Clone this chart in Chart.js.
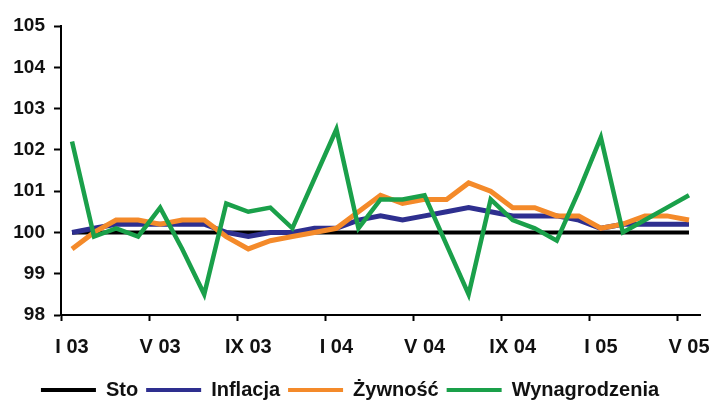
<!DOCTYPE html>
<html>
<head>
<meta charset="utf-8">
<script src="https://cdn.jsdelivr.net/npm/chart.js@4.4.1/dist/chart.umd.min.js"></script>
<style>
html,body{margin:0;padding:0;background:#fff;}
#wrap{width:711px;height:405px;}
</style>
</head>
<body>
<div id="wrap"><canvas id="c" width="711" height="405"></canvas></div>
<script>
const categories = ["I 03","II 03","III 03","IV 03","V 03","VI 03","VII 03","VIII 03","IX 03","X 03","XI 03","XII 03",
  "I 04","II 04","III 04","IV 04","V 04","VI 04","VII 04","VIII 04","IX 04","X 04","XI 04","XII 04",
  "I 05","II 05","III 05","IV 05","V 05"];
const sto = [100,100,100,100,100,100,100,100,100,100,100,100,100,100,100,100,100,100,100,100,100,100,100,100,100,100,100,100,100];
const inflacja = [100.0,100.1,100.2,100.2,100.2,100.2,100.2,100.0,99.9,100.0,100.0,100.1,100.1,100.3,100.4,100.3,100.4,100.5,100.6,100.5,100.4,100.4,100.4,100.3,100.1,100.2,100.2,100.2,100.2];
const zywnosc = [99.6,100.0,100.3,100.3,100.2,100.3,100.3,99.9,99.6,99.8,99.9,100.0,100.1,100.5,100.9,100.7,100.8,100.8,101.2,101.0,100.6,100.6,100.4,100.4,100.1,100.2,100.4,100.4,100.3];
const wynagrodzenia = [102.2,99.9,100.1,99.9,100.6,99.6,98.5,100.7,100.5,100.6,100.1,101.3,102.5,100.1,100.8,100.8,100.9,99.7,98.5,100.8,100.3,100.1,99.8,101.0,102.3,100.0,100.3,100.6,100.9];
const yTicks = [98,99,100,101,102,103,104,105];
const labelEvery = 4;

const FONT = "'Liberation Sans', Arial, sans-serif";

new Chart(document.getElementById('c'), {
  type: 'line',
  data: {
    labels: categories,
    datasets: [
      {label:'Sto', data: sto, borderColor:'#000000', backgroundColor:'#000000', borderWidth:4, order:4},
      {label:'Inflacja', data: inflacja, borderColor:'#2e2f8f', backgroundColor:'#2e2f8f', borderWidth:5, order:3},
      {label:'Żywność', data: zywnosc, borderColor:'#f48a2a', backgroundColor:'#f48a2a', borderWidth:5, order:2},
      {label:'Wynagrodzenia', data: wynagrodzenia, borderColor:'#1aa04a', backgroundColor:'#1aa04a', borderWidth:4.5, order:1}
    ]
  },
  options: {
    responsive: false,
    animation: false,
    layout: {padding: {top: 26, right: 11, left: 0, bottom: -5}},
    elements: {point: {radius: 0}, line: {tension: 0, borderCapStyle: 'butt', borderJoinStyle: 'miter'}},
    plugins: {
      tooltip: {enabled: false},
      legend: {
        position: 'bottom',
        labels: {
          font: {family: FONT, size: 20, weight: 'bold'},
          color: '#111',
          boxWidth: 55,
          boxHeight: 4,
          padding: 8,
          sort: (a, b) => a.datasetIndex - b.datasetIndex,
          generateLabels: (chart) => Chart.defaults.plugins.legend.labels.generateLabels(chart)
            .map(l => Object.assign(l, {fillStyle: l.strokeStyle, lineWidth: 0}))
        }
      }
    },
    scales: {
      x: {
        offset: true,
        grid: {
          offset: true,
          drawOnChartArea: false,
          tickLength: 6,
          tickWidth: 2,
          tickColor: (ctx) => (ctx.index % labelEvery === 0 && ctx.index < categories.length) ? '#000' : 'rgba(0,0,0,0)'
        },
        border: {display: true, color: '#000', width: 2},
        ticks: {
          autoSkip: false,
          maxRotation: 0,
          minRotation: 0,
          padding: 14,
          color: '#111',
          font: {family: FONT, size: 20, weight: 'bold'},
          callback: (v, i) => (i % labelEvery === 0 ? categories[i] : '')
        },
        afterFit: (s) => { s.paddingLeft = 0; s.paddingRight = 0; s.height = 57; }
      },
      y: {
        min: yTicks[0],
        max: yTicks[yTicks.length - 1],
        afterBuildTicks: (s) => { s.ticks = yTicks.map(v => ({value: v})); },
        grid: {drawOnChartArea: false, tickLength: 7, tickWidth: 2, tickColor: '#000'},
        border: {display: true, color: '#000', width: 2},
        ticks: {
          padding: 9,
          color: '#111',
          font: {family: FONT, size: 19, weight: 'bold'}
        },
        afterFit: (s) => { s.width = 61; s.paddingTop = 0; s.paddingBottom = 0; }
      }
    }
  }
});
</script>
</body>
</html>
